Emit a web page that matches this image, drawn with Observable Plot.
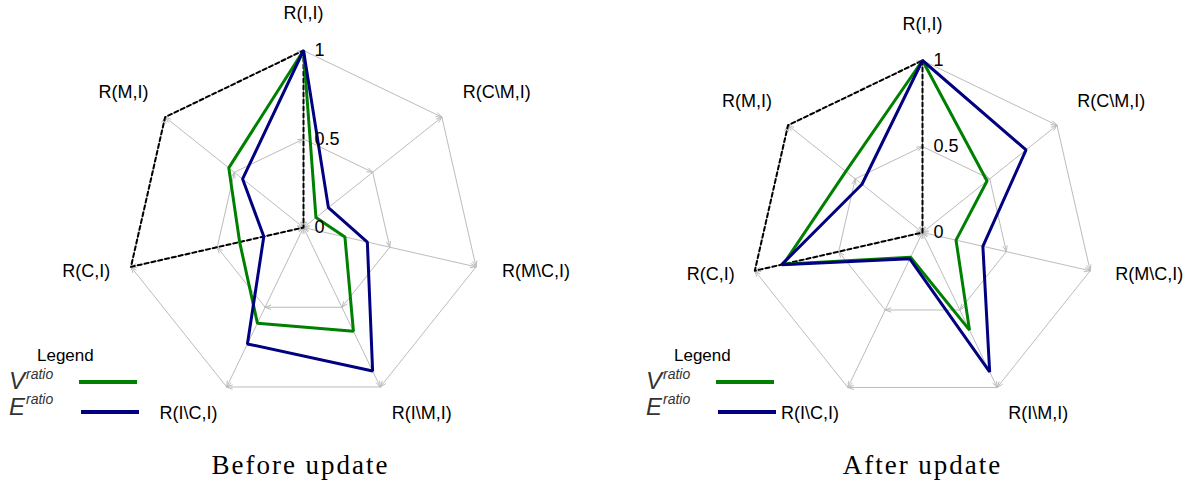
<!DOCTYPE html>
<html><head><meta charset="utf-8">
<script src="https://cdn.jsdelivr.net/npm/d3@7"></script>
<script src="https://cdn.jsdelivr.net/npm/@observablehq/plot@0.6"></script>
<style>
body{margin:0;background:#fff;}
#wrap{display:flex;width:1200px;height:487px;overflow:hidden;}
.panel{position:relative;width:600px;height:487px;}
.panel svg{position:absolute;left:0;top:0;}
.panel g[aria-description="caption"] text{letter-spacing:2px;}
.lg{position:absolute;font-family:"Liberation Sans",Arial,sans-serif;white-space:nowrap;}
.lgTitle{font-size:17px;line-height:17px;color:#000;}
.lgSym{font-size:24px;line-height:24px;font-style:italic;color:#333;}
.lgSup{font-size:14px;line-height:14px;font-style:italic;color:#333;}
.sw{position:absolute;height:4px;width:58px;}
</style></head><body><div id="wrap"></div>
<script>
// ---- data ----
const axes = ["R(I,I)", "R(C\\M,I)", "R(M\\C,I)", "R(I\\M,I)", "R(I\\C,I)", "R(C,I)", "R(M,I)"];
const beforeV = [1.00, 0.09, 0.24, 0.65, 0.60, 0.37, 0.54];
const beforeE = [1.00, 0.18, 0.37, 0.90, 0.73, 0.23, 0.44];
const afterV  = [1.00, 0.48, 0.20, 0.63, 0.16, 0.83, 0.57];
const afterE  = [1.00, 0.77, 0.36, 0.90, 0.17, 0.84, 0.45];
const referenceShape = [1, 0, 0, 0, 0, 1, 1];
const gridLevels = [0.5, 1];
const tickValues = [0, 0.5, 1];
const tickLabels = ["0", "0.5", "1"];
const captions = ["Before update", "After update"];
const legendTitle = "Legend";
const seriesSymbols = ["V", "E"];
const seriesSup = "ratio";

const GREEN = "#008000", BLUE = "#000080", GRID = "#bcbcbc";
const W = 600, H = 487;
const n = axes.length;
const ang = i => i * 2 * Math.PI / n;
const pt = (i, r) => ({x: r * Math.sin(ang(i)), y: r * Math.cos(ang(i))});

function panel({cx, cy, R, V, E, caption, capDx, lx}) {
  const series = (vals, name) => vals.map((v, i) => ({...pt(i, v), series: name, axis: axes[i], value: v}));
  const grid = [];
  gridLevels.forEach(L => axes.forEach((a, i) => {
    const A = pt(i, L), B = pt((i + 1) % n, L);
    grid.push({x1: A.x, y1: A.y, x2: B.x, y2: B.y});
  }));
  axes.forEach((a, i) => {
    const m = pt(i, gridLevels[0]), o = pt(i, 1), c = pt(i, 0);
    grid.push({x1: m.x, y1: m.y, x2: c.x, y2: c.y});
    grid.push({x1: m.x, y1: m.y, x2: o.x, y2: o.y});
  });
  const labels = axes.map((a, i) => ({name: a, s: Math.sin(ang(i)), c: Math.cos(ang(i))}));
  const ticks = tickValues.map((v, i) => ({v, t: tickLabels[i]}));
  const labelY = d => 1.19 * d.c + 0.02;
  const svg = Plot.plot({
    width: W, height: H, margin: 0,
    x: {domain: [-cx / R, (W - cx) / R], axis: null},
    y: {domain: [(cy - H) / R, cy / R], axis: null},
    style: {fontFamily: "'Liberation Sans', Arial, sans-serif", background: "transparent"},
    marks: [
      Plot.arrow(grid, {x1: "x1", y1: "y1", x2: "x2", y2: "y2", stroke: GRID, strokeWidth: 1, headLength: 9, headAngle: 40}),
      Plot.line(series(referenceShape, "ref"), {x: "x", y: "y", curve: "linear-closed", stroke: "black", strokeWidth: 2, strokeDasharray: "4,3"}),
      Plot.line(series(V, "V"), {x: "x", y: "y", curve: "linear-closed", stroke: GREEN, strokeWidth: 3, strokeLinejoin: "miter"}),
      Plot.line(series(E, "E"), {x: "x", y: "y", curve: "linear-closed", stroke: BLUE, strokeWidth: 3, strokeLinejoin: "miter"}),
      Plot.text(ticks, {x: 0, y: "v", text: "t", dx: 11, textAnchor: "start", fontSize: 18, fill: "black"}),
      Plot.text(labels.filter(d => d.s > 0.1), {x: d => 1.15 * d.s, y: labelY, text: "name", textAnchor: "start", fontSize: 18, fill: "black"}),
      Plot.text(labels.filter(d => d.s < -0.1), {x: d => 1.12 * d.s, y: labelY, text: "name", textAnchor: "end", fontSize: 18, fill: "black"}),
      Plot.text(labels.filter(d => Math.abs(d.s) <= 0.1), {x: 0, y: labelY, text: "name", textAnchor: "middle", fontSize: 18, fill: "black"}),
      Plot.text([caption], {frameAnchor: "bottom", dx: capDx, dy: -14, fontSize: 27, fontFamily: "'Liberation Serif', serif", fill: "black", ariaDescription: "caption"})
    ]
  });
  const div = document.createElement("div");
  div.className = "panel";
  div.appendChild(svg);
  const add = (cls, txt, left, top) => {
    const s = document.createElement("div");
    s.className = "lg " + cls; s.textContent = txt;
    s.style.left = (lx + left) + "px"; s.style.top = top + "px";
    div.appendChild(s);
  };
  add("lgTitle", legendTitle, 37, 347);
  add("lgSym", seriesSymbols[0], 9, 369);
  add("lgSup", seriesSup, 26, 367);
  add("lgSym", seriesSymbols[1], 9, 395);
  add("lgSup", seriesSup, 26, 392);
  const sw = (color, left, top) => {
    const s = document.createElement("div");
    s.className = "sw"; s.style.background = color;
    s.style.left = (lx + left) + "px"; s.style.top = top + "px";
    div.appendChild(s);
  };
  sw(GREEN, 79, 380);
  sw(BLUE, 81, 410);
  return div;
}

const wrap = document.getElementById("wrap");
wrap.appendChild(panel({cx: 303, cy: 227, R: 177, V: beforeV, E: beforeE, caption: captions[0], capDx: 0, lx: 0}));
wrap.appendChild(panel({cx: 322, cy: 232, R: 172, V: afterV, E: afterE, caption: captions[1], capDx: 22, lx: 37}));
</script>
</body></html>
